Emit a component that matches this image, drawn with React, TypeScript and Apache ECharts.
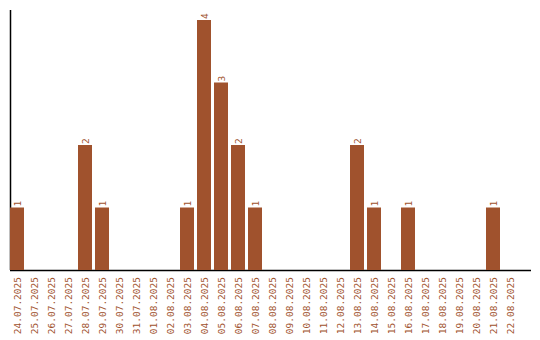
import React, { useEffect, useRef } from "react";
import * as echarts from "echarts";

const categories = [
  "24.07.2025","25.07.2025","26.07.2025","27.07.2025","28.07.2025","29.07.2025",
  "30.07.2025","31.07.2025","01.08.2025","02.08.2025","03.08.2025","04.08.2025",
  "05.08.2025","06.08.2025","07.08.2025","08.08.2025","09.08.2025","10.08.2025",
  "11.08.2025","12.08.2025","13.08.2025","14.08.2025","15.08.2025","16.08.2025",
  "17.08.2025","18.08.2025","19.08.2025","20.08.2025","21.08.2025","22.08.2025",
];
const values = [1,0,0,0,2,1,0,0,0,0,1,4,3,2,1,0,0,0,0,0,2,1,0,1,0,0,0,0,1,0];

const COLOR = "#a0522d";
const FONT = "DejaVu Sans Mono";

export default function App() {
  const ref = useRef<HTMLDivElement>(null);
  useEffect(() => {
    const chart = echarts.init(ref.current!, null, { renderer: "svg" });
    chart.setOption({
      animation: false,
      grid: { left: 8.5, right: 21.5, top: 10, bottom: 70, containLabel: false },
      xAxis: {
        type: "category",
        data: categories,
        axisLine: { show: false },
        axisTick: { show: false },
        axisLabel: {
          rotate: 90,
          interval: 0,
          color: COLOR,
          fontFamily: FONT,
          fontSize: 9.5,
          margin: 7,
        },
      },
      yAxis: {
        type: "value",
        min: 0,
        max: 4.16,
        axisLine: { show: false },
        axisTick: { show: false },
        axisLabel: { show: false },
        splitLine: { show: false },
      },
      graphic: [
        { type: "line", shape: { x1: 10.5, y1: 10, x2: 10.5, y2: 270 }, style: { stroke: "#000", lineWidth: 1.5 } },
        { type: "line", shape: { x1: 10, y1: 270.5, x2: 531, y2: 270.5 }, style: { stroke: "#000", lineWidth: 1.5 } },
      ],
      series: [
        {
          type: "bar",
          data: values.map((v) => (v === 0 ? null : v)),
          barWidth: 14,
          itemStyle: { color: COLOR },
          label: {
            show: true,
            position: "top",
            rotate: 90,
            align: "left",
            verticalAlign: "middle",
            distance: 1,
            color: COLOR,
            fontFamily: FONT,
            fontSize: 9.5,
          },
        },
      ],
    });
    return () => chart.dispose();
  }, []);
  return <div ref={ref} style={{ width: 540, height: 340, position: "absolute", left: 0, top: 0 }} />;
}
